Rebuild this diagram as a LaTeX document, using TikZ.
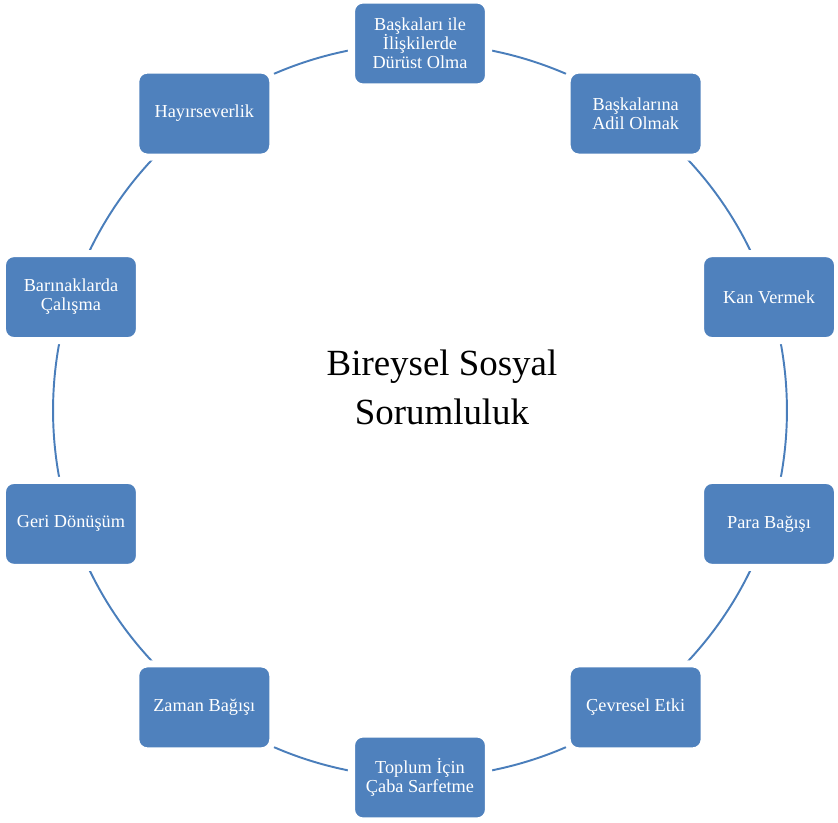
\documentclass[tikz,border=0pt]{standalone}
\usepackage{fontspec}
\setmainfont{Liberation Serif}
\usetikzlibrary{backgrounds}
\definecolor{boxblue}{HTML}{4F81BD}
\definecolor{ringblue}{HTML}{4A7EBB}
\begin{document}
\begin{tikzpicture}[
  item/.style={fill=boxblue,draw=white,line width=4pt,rounded corners=6.5pt,
    minimum width=2.74cm,minimum height=1.74cm,inner sep=2pt,align=center,
    text=white,font=\fontsize{10.4}{10.8}\selectfont},
  ring/.style={draw=ringblue,line width=1.1pt,bend left=18,looseness=0.873}]
\useasboundingbox (-8.4,-8.25) rectangle (8.36,8.21);
\node[font=\fontsize{21}{28}\selectfont,align=center](T) at (0.44,0.47){Bireysel Sosyal\\Sorumluluk};
\node[item](D) at (0,7.34){Başkaları ile\\İlişkilerde\\Dürüst Olma};
\node[item](A) at (4.314,5.938){Başkalarına\\Adil Olmak};
\node[item](K) at (6.981,2.268){Kan Vermek};
\node[item](P) at (6.981,-2.268){Para Bağışı};
\node[item](C) at (4.314,-5.938){Çevresel Etki};
\node[item](TC) at (0,-7.34){Toplum İçin\\Çaba Sarfetme};
\node[item](Z) at (-4.314,-5.938){Zaman Bağışı};
\node[item](G) at (-6.981,-2.268){Geri Dönüşüm};
\node[item](B) at (-6.981,2.268){Barınaklarda\\Çalışma};
\node[item](H) at (-4.314,5.938){Hayırseverlik};
\begin{scope}[on background layer]
\draw[ring] (D.center) to (A.center);
\draw[ring] (A.center) to (K.center);
\draw[ring] (K.center) to (P.center);
\draw[ring] (P.center) to (C.center);
\draw[ring] (C.center) to (TC.center);
\draw[ring] (TC.center) to (Z.center);
\draw[ring] (Z.center) to (G.center);
\draw[ring] (G.center) to (B.center);
\draw[ring] (B.center) to (H.center);
\draw[ring] (H.center) to (D.center);
\end{scope}
\end{tikzpicture}
\end{document}
